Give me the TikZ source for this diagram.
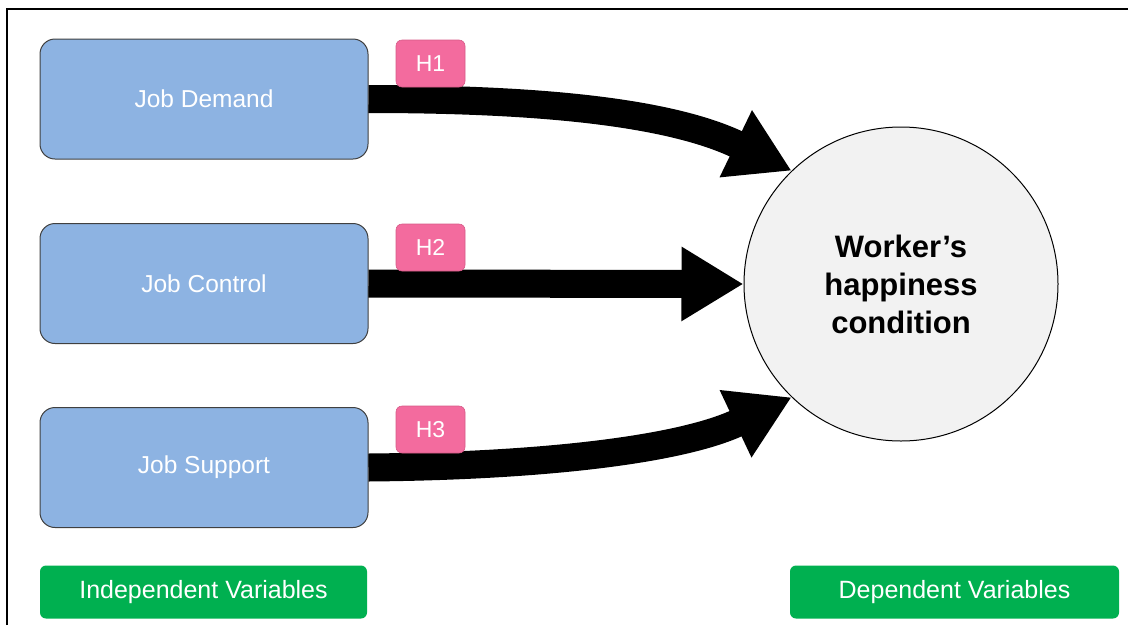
\documentclass[tikz,border=0pt]{standalone}
\usepackage{fontspec}
\setmainfont{Liberation Sans}
\usepackage{xcolor}
\usetikzlibrary{arrows.meta,positioning}

\definecolor{varblue}{HTML}{8DB3E2}
\definecolor{hypink}{HTML}{F36B9E}
\definecolor{hypedge}{HTML}{D65A87}
\definecolor{labgreen}{HTML}{00B050}
\definecolor{outgray}{HTML}{F2F2F2}

\tikzset{
  varbox/.style={draw=black!75, line width=1pt, fill=varblue, rounded corners=15pt,
    minimum width=328pt, minimum height=120pt, text=white, font=\fontsize{24.5}{28}\selectfont},
  tagbox/.style={draw=hypedge, line width=0.6pt, fill=hypink, rounded corners=6pt,
    minimum width=69pt, minimum height=47pt, text=white, font=\fontsize{23}{26}\selectfont},
  legbox/.style={fill=labgreen, rounded corners=6pt, minimum height=53pt,
    text=white, font=\fontsize{25}{28}\selectfont},
  bigarrow/.style={line width=28pt, -{Triangle[length=62pt, width=70pt]}},
}

\begin{document}
\begin{tikzpicture}[x=1pt,y=1pt]
  \useasboundingbox (0,0) rectangle (1128,-625);
  % frame
  \draw[line width=2pt] (7,-625) -- (7,-9) -- (1128,-9);

  % independent variables
  \node[varbox] (dem) at (204,-99) {Job Demand};
  \node[varbox] (ctl) at (204,-283.5) {Job Control};
  \node[varbox] (sup) at (204,-467.5) {Job Support};

  % dependent variable
  \node[circle, draw, line width=1pt, fill=outgray, minimum size=314pt, align=center,
        font=\fontsize{31}{38}\selectfont\bfseries] (hap) at (901,-284)
        {Worker’s\\happiness\\condition};

  % hypotheses
  \draw[bigarrow] (dem.east) .. controls (540,-99) and (670,-112) .. (hap.134);
  \draw[bigarrow] (ctl.east) -- (hap.west);
  \draw[bigarrow] (sup.east) .. controls (540,-466) and (680,-450) .. (hap.226);

  \node[tagbox] (h1) at (430.5,-63.5) {H1};
  \node[tagbox] (h2) at (430.5,-247.5) {H2};
  \node[tagbox] (h3) at (430.5,-429.5) {H3};

  % legend
  \node[legbox, minimum width=327pt] (indep) at (203.5,-592) {Independent Variables};
  \node[legbox, minimum width=329pt] (depv) at (954.5,-592) {Dependent Variables};
\end{tikzpicture}
\end{document}
